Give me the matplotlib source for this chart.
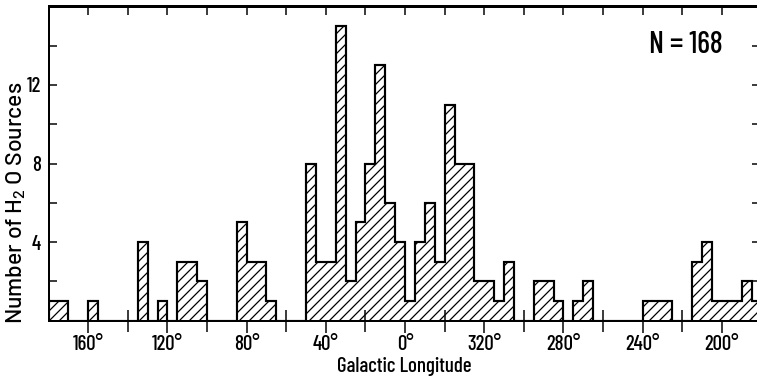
import numpy as np
import matplotlib
matplotlib.use("Agg")
import matplotlib.pyplot as plt

# H2O sources per 5 deg bin of galactic longitude (bin centres, deg)
lon_centres = [177.5, 172.5, 157.5, 132.5, 122.5, 112.5, 107.5, 102.5,
               82.5, 77.5, 72.5, 67.5, 47.5, 42.5, 37.5, 32.5, 27.5, 22.5,
               17.5, 12.5, 7.5, 2.5, 357.5, 352.5, 347.5, 342.5, 337.5,
               332.5, 327.5, 322.5, 317.5, 312.5, 307.5, 292.5, 287.5,
               282.5, 272.5, 267.5, 237.5, 232.5, 227.5, 212.5, 207.5,
               202.5, 197.5, 192.5, 187.5, 182.5]
counts = [1, 1, 1, 4, 1, 3, 3, 2,
          5, 3, 3, 1, 8, 3, 3, 15, 2, 5,
          8, 13, 6, 4, 1, 4, 6, 3, 11,
          8, 8, 2, 2, 1, 3, 2, 2,
          1, 1, 2, 1, 1, 1, 3, 4,
          1, 1, 1, 2, 1]
bin_width = 5

major_lon = [160, 120, 80, 40, 0, 320, 280, 240, 200]
minor_lon = [140, 100, 60, 20, 340, 300, 260, 220]
y_major = [4, 8, 12]
y_minor = [2, 6, 10, 14]
n_total = 168

plt.rcParams['font.family'] = ['Barlow Condensed', 'DejaVu Sans']
plt.rcParams['font.weight'] = 'medium'
plt.rcParams['hatch.linewidth'] = 0.75

DPI = 120
W, H = 757, 377


def wrap(lon):
    # 180..0 on the left half, 360..180 shown as negative values
    lon = np.asarray(lon, dtype=float)
    return np.where(lon > 180, lon - 360, lon)


edges = np.arange(-180, 180 + bin_width, bin_width)
values = np.zeros(len(edges) - 1)
for xc, c in zip(wrap(lon_centres), counts):
    values[int((xc + 180) // bin_width)] = c

fig = plt.figure(figsize=(W / DPI, H / DPI), dpi=DPI)
px_left, px_right, px_bottom, px_top = 48.6, 759.0, 320.5, 6.5
ax = fig.add_axes([px_left / W, 1 - px_bottom / H,
                   (px_right - px_left) / W, (px_bottom - px_top) / H])

ax.stairs(values, edges, baseline=0, fill=True, hatch='////',
          facecolor='white', edgecolor='black', linewidth=1.3)

ax.set_xlim(180, 180 - (px_right - px_left) / 1.98)
ax.set_ylim(0, 16)

for s in ax.spines.values():
    s.set_linewidth(1.2)

ax.set_xticks(wrap(major_lon))
ax.set_xticklabels([f"{v}°" for v in major_lon])
ax.set_xticks(wrap(minor_lon), minor=True)
ax.tick_params(axis='x', which='major', direction='out', length=7,
               width=0.9, pad=2, labelsize=12.5)
ax.tick_params(axis='x', which='minor', direction='inout', length=13,
               width=0.9)

ax.set_yticks(y_major)
ax.set_yticks(y_minor, minor=True)
ax.tick_params(axis='y', which='both', direction='in', length=4.5,
               width=0.9, pad=4.5, labelsize=12.5)

top = ax.secondary_xaxis('top')
top.set_xticks(wrap(np.arange(180, -181, -20) % 360))
top.tick_params(direction='in', length=5.5, width=0.9, labeltop=False)
top.spines['top'].set_linewidth(1.2)

right = ax.secondary_yaxis('right')
right.set_yticks(np.arange(2, 16, 2))
right.tick_params(direction='in', length=4, width=0.9, labelright=False)
right.spines['right'].set_linewidth(1.2)

fig.text((px_left + px_right) / 2 / W, 1 - 366 / H, "Galactic Longitude",
         ha='center', va='center', fontsize=12.5)
fig.text(16 / W, 1 - 203 / H, r"Number of H$\mathregular{_2}$ O Sources",
         rotation=90, ha='center', va='center', fontsize=13.8,
         family=['Barlow', 'Barlow Semi Condensed', 'DejaVu Sans'])
fig.text(685.5 / W, 1 - 45 / H, f"N = {n_total}",
         ha='center', va='center', fontsize=18)

fig.savefig("out.png", dpi=DPI)
